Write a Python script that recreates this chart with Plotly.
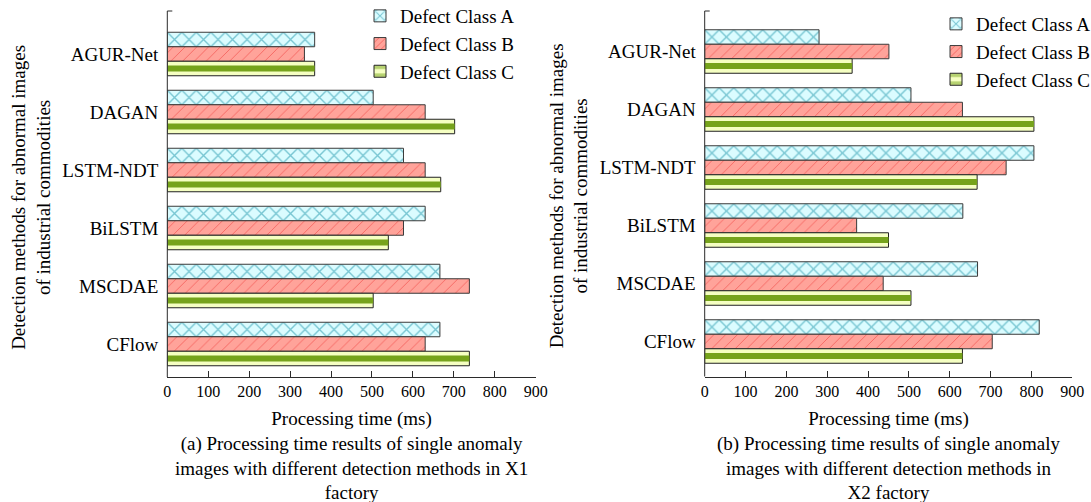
import plotly.graph_objects as go

# ---------------- data ----------------
methods = ["AGUR-Net", "DAGAN", "LSTM-NDT", "BiLSTM", "MSCDAE", "CFlow"]
class_names = ["Defect Class A", "Defect Class B", "Defect Class C"]
x_tick_values = [0, 100, 200, 300, 400, 500, 600, 700, 800, 900]

x1_class_a = [360, 503, 577, 630, 666, 666]
x1_class_b = [335, 630, 630, 577, 738, 630]
x1_class_c = [360, 702, 668, 540, 503, 738]

x2_class_a = [280, 505, 806, 632, 668, 819]
x2_class_b = [451, 631, 738, 372, 437, 704]
x2_class_c = [361, 806, 667, 450, 505, 631]

x_title = "Processing time (ms)"
y_title = "Detection methods for abnormal images<br>of industrial commodities"
caption_a = ("(a) Processing time results of single anomaly<br>"
             "images with different detection methods in X1<br>factory")
caption_b = ("(b) Processing time results of single anomaly<br>"
             "images with different detection methods in<br>X2 factory")

# ---------------- style ----------------
W, H = 1091, 502
FONT = "Liberation Serif, Times New Roman, serif"
AX = "#2b2b2b"
EDGE = "#3a3a3a"
A_BG, A_FG = "#dbfcff", "#168fa6"
B_BG, B_FG = "#ffa39a", "#e81c1c"
C_BG, C_FG = "#f5ffc2", "#76a31b"

U = 58.0  # px per category (used for pattern alignment)


def fx(p):
    return p / W


def fy(p):
    return 1 - p / H


panels = [
    dict(xa="x", ya="y", leg="legend", x0=167.3, x1=535.7, top=17.75, bot=377.0,
         axtop=11.0, vals=(x1_class_a, x1_class_b, x1_class_c)),
    dict(xa="x2", ya="y2", leg="legend2", x0=704.7, x1=1072.3, top=15.25, bot=376.5,
         axtop=11.0, vals=(x2_class_a, x2_class_b, x2_class_c)),
]

fig = go.Figure()

pat_a = dict(shape="x", fgcolor=A_FG, bgcolor=A_BG, size=14.5 / 2 ** 0.5, solidity=0.25)
pat_b = dict(shape="/", fgcolor=B_FG, bgcolor=B_BG, size=8.3, solidity=0.1)

for p in panels:
    va, vb, vc = p["vals"]
    common = dict(orientation="h", xaxis=p["xa"], yaxis=p["ya"], showlegend=False,
                  hoverinfo="x+y+name")
    fig.add_trace(go.Bar(x=va, y=methods, name=class_names[0], offset=-0.375, width=0.25,
                         marker=dict(color=A_BG, pattern=pat_a,
                                     line=dict(color=EDGE, width=1)), **common))
    fig.add_trace(go.Bar(x=vb, y=methods, name=class_names[1], offset=-0.125, width=0.25,
                         marker=dict(color=B_BG, pattern=pat_b,
                                     line=dict(color=EDGE, width=1)), **common))
    fig.add_trace(go.Bar(x=vc, y=methods, name=class_names[2], offset=0.125, width=0.25,
                         marker=dict(color=C_BG, line=dict(color="#222", width=1)), **common))
    fig.add_trace(go.Bar(x=vc, y=methods, name=class_names[2], offset=0.1975, width=0.105,
                         marker=dict(color=C_FG, line=dict(width=0)), **common))
    # legend entries
    leg_common = dict(orientation="h", xaxis=p["xa"], yaxis=p["ya"], x=[None], y=[None],
                      legend=p["leg"], showlegend=True, hoverinfo="skip")
    fig.add_trace(go.Bar(name=class_names[0], marker=dict(color=A_BG,
                         pattern=dict(shape="x", fgcolor=A_FG, bgcolor=A_BG, size=8, solidity=0.3),
                         line=dict(color=EDGE, width=1)), **leg_common))
    fig.add_trace(go.Bar(name=class_names[1], marker=dict(color=B_BG,
                         pattern=dict(shape="/", fgcolor=B_FG, bgcolor=B_BG, size=6, solidity=0.18),
                         line=dict(color=EDGE, width=1)), **leg_common))
    fig.add_trace(go.Bar(name=class_names[2], marker=dict(color=C_BG,
                         pattern=dict(shape="-", fgcolor=C_FG, bgcolor=C_BG, size=10, solidity=0.45),
                         line=dict(color="#222", width=1)), **leg_common))

layout = dict(
    width=W, height=H,
    margin=dict(l=0, r=0, t=0, b=0, autoexpand=False),
    paper_bgcolor="white", plot_bgcolor="white",
    barmode="overlay",
    font=dict(family=FONT, size=19, color="black"),
    shapes=[], annotations=[],
)

for i, p in enumerate(panels):
    sfx = "" if i == 0 else str(i + 1)
    span = (p["bot"] - p["top"]) / U
    layout["xaxis" + sfx] = dict(
        domain=[fx(p["x0"]), fx(p["x1"])], anchor=p["ya"], range=[0, 900],
        tickmode="array", tickvals=x_tick_values, ticks="inside", ticklen=6,
        tickcolor=AX, showline=True, linecolor=AX, linewidth=1, showgrid=False,
        zeroline=False, tickfont=dict(size=16, family=FONT),
        title=dict(text=x_title, font=dict(size=19, family=FONT), standoff=12),
    )
    layout["yaxis" + sfx] = dict(
        domain=[fy(p["bot"]), fy(p["top"])], anchor=p["xa"], type="category",
        categoryorder="array", categoryarray=methods,
        range=[-0.625 + span, -0.625], showline=False, showgrid=False, zeroline=False,
        ticks="", ticklabelstandoff=8, tickfont=dict(size=19, family=FONT),
        title=dict(text=y_title, font=dict(size=19, family=FONT), standoff=6),
    )
    # left spine (extends above plot area like the reference)
    layout["shapes"].append(dict(type="line", xref="paper", yref="paper",
                                 x0=fx(p["x0"]), x1=fx(p["x0"]), y0=fy(p["bot"]), y1=fy(p["axtop"]),
                                 line=dict(color=AX, width=1)))
    layout["shapes"].append(dict(type="line", xref="paper", yref="paper",
                                 x0=fx(p["x0"]), x1=fx(p["x0"] + 5), y0=fy(p["axtop"]), y1=fy(p["axtop"]),
                                 line=dict(color=AX, width=1)))
    layout["annotations"].append(dict(
        text=caption_a if i == 0 else caption_b, xref="paper", yref="paper",
        x=fx((p["x0"] + p["x1"]) / 2), y=fy(431), xanchor="center", yanchor="top",
        showarrow=False, align="center", font=dict(size=19, family=FONT)))

layout["legend"] = dict(x=fx(360), y=fy(-3), xanchor="left", yanchor="top",
                        bgcolor="rgba(0,0,0,0)", font=dict(size=19, family=FONT),
                        itemclick=False, itemdoubleclick=False)
layout["legend2"] = dict(x=fx(936), y=fy(5), xanchor="left", yanchor="top",
                         bgcolor="rgba(0,0,0,0)", font=dict(size=19, family=FONT),
                         itemclick=False, itemdoubleclick=False)

fig.update_layout(**layout)
fig.write_html("out.html")
